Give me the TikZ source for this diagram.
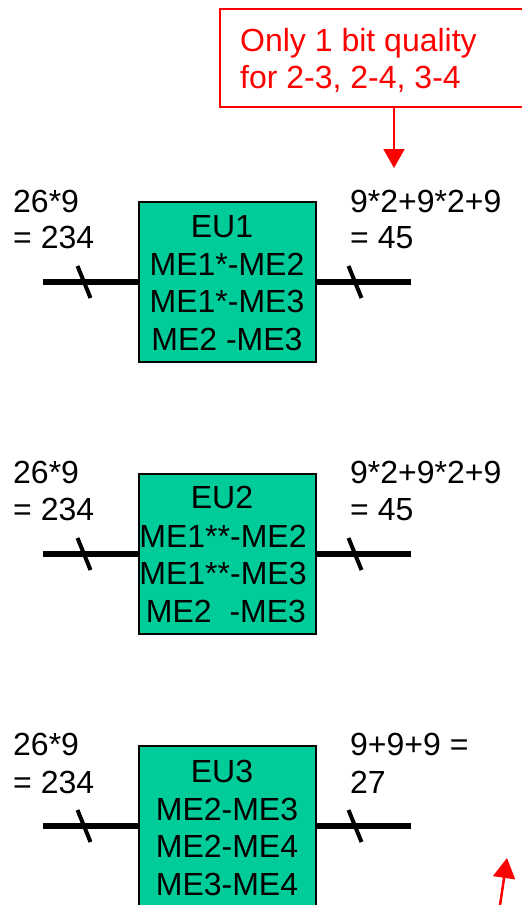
\documentclass[tikz,border=0pt]{standalone}
\usepackage{fontspec}
\setmainfont{Liberation Sans}
\usetikzlibrary{arrows.meta}
\definecolor{eugreen}{RGB}{0,204,153}
\begin{document}
\begin{tikzpicture}[x=1pt,y=-1pt,
  txt/.style={font=\fontsize{32}{37}\selectfont, inner sep=0pt},
  eubox/.style={draw=black, line width=1.5pt, fill=eugreen, minimum width=177pt, minimum height=160pt, inner sep=0pt},
  bus/.style={line width=5.5pt},
  tick/.style={line width=4pt},
  rednote/.style={draw=red, line width=2pt, inner sep=0pt}]
\useasboundingbox (0,0) rectangle (522,905);

% red note
\node[rednote, minimum width=311pt, minimum height=98pt, anchor=north west] (note) at (219,8) {};
\node[txt, red, anchor=base west] (n1) at (240,51) {Only 1 bit quality};
\node[txt, red, anchor=base west] (n2) at (240,88) {for 2-3, 2-4, 3-4};
\coordinate (t1) at (394,168);
\draw[red, line width=2pt, -{Triangle[length=19pt,width=21pt]}] (note.south -| t1) -- (t1);

% ---- block 1
\node[eubox] (eu1) at (227.5,282) {};
\coordinate (a1) at (43,282);
\coordinate (b1) at (411,282);
\draw[bus] (a1) -- (eu1.west);
\draw[bus] (eu1.east) -- (b1);
\coordinate (s1a) at (77.5,266); \coordinate (s1b) at (90.5,298);
\coordinate (s1c) at (348.5,266); \coordinate (s1d) at (361.5,298);
\draw[tick] (s1a) -- (s1b);
\draw[tick] (s1c) -- (s1d);
\node[txt, anchor=base] (e1a) at (222,237) {EU1};
\node[txt, anchor=base] (e1b) at (227,275) {ME1*-ME2};
\node[txt, anchor=base] (e1c) at (227,312) {ME1*-ME3};
\node[txt, anchor=base] (e1d) at (227,350) {ME2 -ME3};
\node[txt, anchor=base west] (l1a) at (13,212) {26*9};
\node[txt, anchor=base west] (l1b) at (13,248) {= 234};
\node[txt, anchor=base west] (r1a) at (350,212) {9*2+9*2+9};
\node[txt, anchor=base west] (r1b) at (350,248) {= 45};

% ---- block 2
\node[eubox] (eu2) at (227.5,554) {};
\coordinate (a2) at (43,554);
\coordinate (b2) at (411,554);
\draw[bus] (a2) -- (eu2.west);
\draw[bus] (eu2.east) -- (b2);
\coordinate (s2a) at (77.5,538); \coordinate (s2b) at (90.5,570);
\coordinate (s2c) at (348.5,538); \coordinate (s2d) at (361.5,570);
\draw[tick] (s2a) -- (s2b);
\draw[tick] (s2c) -- (s2d);
\node[txt, anchor=base] (e2a) at (222,508) {EU2};
\node[txt, anchor=base] (e2b) at (223,547) {ME1**-ME2};
\node[txt, anchor=base] (e2c) at (223,584) {ME1**-ME3};
\node[txt, anchor=base] (e2d) at (226,622) {ME2\ \ -ME3};
\node[txt, anchor=base west] (l2a) at (13,483) {26*9};
\node[txt, anchor=base west] (l2b) at (13,520) {= 234};
\node[txt, anchor=base west] (r2a) at (350,483) {9*2+9*2+9};
\node[txt, anchor=base west] (r2b) at (350,520) {= 45};

% ---- block 3
\node[eubox] (eu3) at (227.5,826) {};
\coordinate (a3) at (43,826);
\coordinate (b3) at (411,826);
\draw[bus] (a3) -- (eu3.west);
\draw[bus] (eu3.east) -- (b3);
\coordinate (s3a) at (77.5,810); \coordinate (s3b) at (90.5,842);
\coordinate (s3c) at (348.5,810); \coordinate (s3d) at (361.5,842);
\draw[tick] (s3a) -- (s3b);
\draw[tick] (s3c) -- (s3d);
\node[txt, anchor=base] (e3a) at (222,782) {EU3};
\node[txt, anchor=base] (e3b) at (227,820) {ME2-ME3};
\node[txt, anchor=base] (e3c) at (227,857) {ME2-ME4};
\node[txt, anchor=base] (e3d) at (227,895) {ME3-ME4};
\node[txt, anchor=base west] (l3a) at (13,755) {26*9};
\node[txt, anchor=base west] (l3b) at (13,793) {= 234};
\node[txt, anchor=base west] (r3a) at (350,755) {9+9+9 =};
\node[txt, anchor=base west] (r3b) at (350,793) {27};

% bottom red arrow
\coordinate (r0) at (499,912);
\coordinate (rt) at (507,858);
\draw[red, line width=2.5pt, -{Triangle[length=20pt,width=22pt]}] (r0) -- (rt);
\end{tikzpicture}
\end{document}
